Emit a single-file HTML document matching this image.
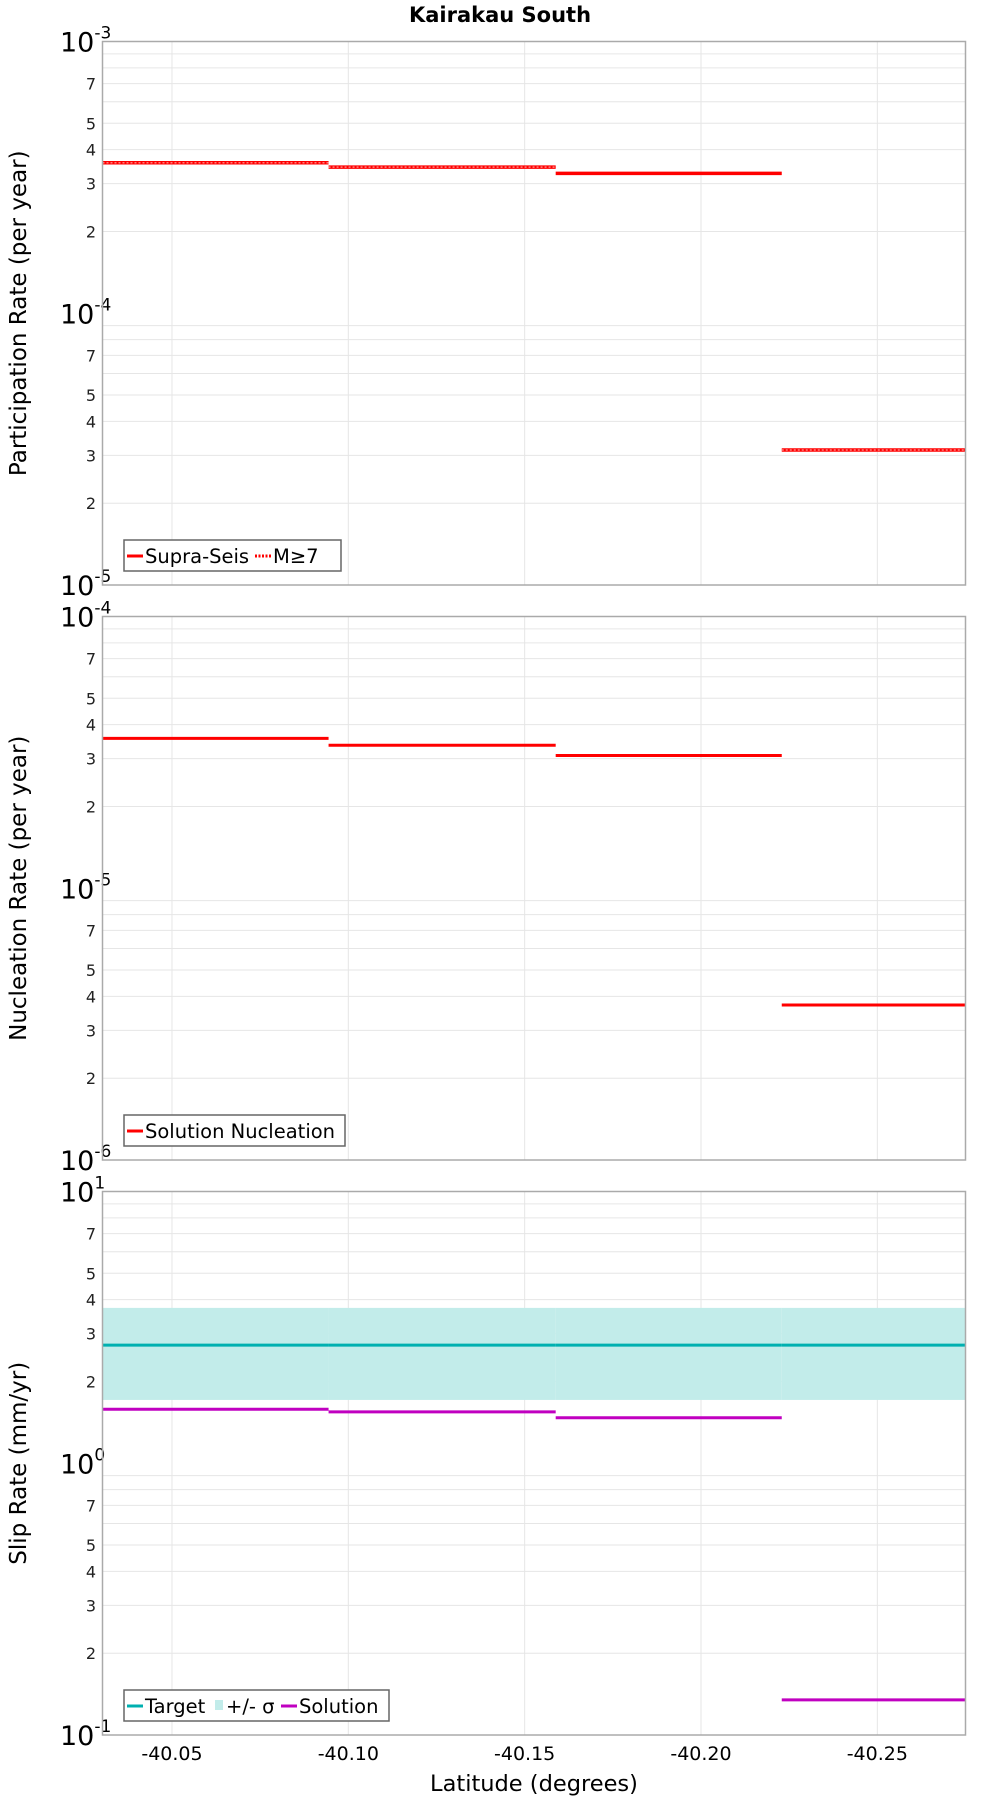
<!DOCTYPE html>
<html><head><meta charset="utf-8"><style>
html,body{margin:0;padding:0;background:#fff;}
svg{display:block;font-family:"DejaVu Sans","Liberation Sans",sans-serif;}
</style></head><body>
<svg id="chart" width="1000" height="1800" viewBox="0 0 1000 1800" xmlns="http://www.w3.org/2000/svg">
<text x="500" y="22" text-anchor="middle" font-size="21" font-weight="bold">Kairakau South</text>
</svg>
<script>
const latEdges = [-40.0303, -40.0944, -40.1588, -40.2229, -40.275];
const xTicks = [-40.05, -40.10, -40.15, -40.20, -40.25];
const xTickLabels = ["-40.05", "-40.10", "-40.15", "-40.20", "-40.25"];
const supraSeis = [3.58e-4, 3.45e-4, 3.27e-4, 3.14e-5];
const mGe7 = [3.58e-4, 3.45e-4, null, 3.14e-5];
const nucleation = [3.56e-5, 3.36e-5, 3.08e-5, 3.72e-6];
const targetSlip = [2.72, 2.72, 2.72, 2.72];
const sigmaHigh = [3.73, 3.73, 3.73, 3.73];
const sigmaLow = [1.71, 1.71, 1.71, 1.71];
const solutionSlip = [1.58, 1.545, 1.47, 0.1346];

const NS = "http://www.w3.org/2000/svg";
const svg = document.getElementById('chart');
const L = 102.5, R = 965.5;
function xs(lat){ return L + (lat - latEdges[0]) / (latEdges[latEdges.length-1] - latEdges[0]) * (R - L); }
function mk(tag, attrs, parent){ const e = document.createElementNS(NS, tag); for (const k in attrs) e.setAttribute(k, attrs[k]); (parent||svg).appendChild(e); return e; }

function panel(name, top, bottom, dTop, dBot, ytitle){
  const g = mk('g', {});
  
  
  const ys = v => top + (Math.log10(dTop) - Math.log10(v)) / (Math.log10(dTop) - Math.log10(dBot)) * (bottom - top);
  for (let e = Math.log10(dBot); e < Math.log10(dTop); e++) {
    for (let m = 2; m <= 9; m++) {
      const v = m * Math.pow(10, e);
      const y = ys(v);
      const gl = mk('line', {x1:L, x2:R, y1:y, y2:y, stroke:'#e6e6e6', 'stroke-width':1}, g);
      
      
      if ([2,3,4,5,7].includes(m)) {
        const t = mk('text', {x:96, y:y+6, 'text-anchor':'end', 'font-size':16, fill:'#222'}, g);
        
        
        t.textContent = m;
      }
    }
  }
  for (let e = Math.log10(dBot); e <= Math.log10(dTop); e++) {
    const y = ys(Math.pow(10, e));
    const t = mk('text', {x:60, y:y+10, 'font-size':27, fill:'#000'}, g);
    
    
    t.textContent = '10';
    const s = mk('tspan', {dy:-13, 'font-size':17}, t);
    s.textContent = String(e);
  }
  xTicks.forEach(v => {
    const x = xs(v);
    const gl = mk('line', {x1:x, x2:x, y1:top, y2:bottom, stroke:'#e6e6e6', 'stroke-width':1}, g);
    
    
  });
  const yt = mk('text', {x:0, y:0, 'text-anchor':'middle', 'font-size':23, transform:`translate(26,${(top+bottom)/2}) rotate(-90)`}, g);
  
  
  yt.textContent = ytitle;
  return {g, ys};
}
function frame(g, top, bottom){
  const f = mk('rect', {x:L, y:top, width:R-L, height:bottom-top, fill:'none', stroke:'#aaa', 'stroke-width':1.5}, g);
  
  
}
function steps(g, ys, vals, color, w, name, dash){
  vals.forEach((v, i) => {
    if (v == null) return;
    const y = ys(v);
    const a = {x1:xs(latEdges[i]), x2:xs(latEdges[i+1]), y1:y, y2:y, stroke:color, 'stroke-width':w};
    if (dash) a['stroke-dasharray'] = dash;
    const l = mk('line', a, g);
    
    
  });
}
function legend(g, x, y, w, items){
  const b = mk('rect', {x:x, y:y, width:w, height:31, fill:'#fff', stroke:'#666', 'stroke-width':1.5}, g);
  
  
  let cx = x + 3;
  items.forEach(it => {
    if (it.band) {
      const r = mk('rect', {x:cx+3, y:y+10, width:8, height:10, fill:it.color}, g);
      
      
      cx += 14;
    } else {
      const a = {x1:cx, x2:cx+16, y1:y+16, y2:y+16, stroke:it.color, 'stroke-width':3};
      if (it.dash) a['stroke-dasharray'] = it.dash;
      const l = mk('line', a, g);
      
      
      cx += 18;
    }
    const t = mk('text', {x:cx, y:y+23, 'font-size':19.5}, g);
    
    
    t.textContent = it.label;
    cx += it.w;
  });
}

// Panel 1
let p = panel('participation', 41.5, 585, 1e-3, 1e-5, 'Participation Rate (per year)');
steps(p.g, p.ys, supraSeis, '#ff0000', 3.5, 'supra-seis');
steps(p.g, p.ys, mGe7, '#ff8080', 1.5, 'm-ge-7', '2,2');
frame(p.g, 41.5, 585);
legend(p.g, 124, 540, 217, [{color:'#f00', label:'Supra-Seis', w:110},{color:'#f00', label:'M≥7', dash:'2,1.5', w:40}]);

// Panel 2
p = panel('nucleation', 616.5, 1160, 1e-4, 1e-6, 'Nucleation Rate (per year)');
steps(p.g, p.ys, nucleation, '#ff0000', 3, 'solution-nucleation');
frame(p.g, 616.5, 1160);
legend(p.g, 124, 1115, 221, [{color:'#f00', label:'Solution Nucleation', w:190}]);

// Panel 3
p = panel('slip-rate', 1191.5, 1735, 10, 0.1, 'Slip Rate (mm/yr)');
sigmaHigh.forEach((v, i) => {
  const y1 = p.ys(v), y2 = p.ys(sigmaLow[i]);
  const r = mk('rect', {x:xs(latEdges[i]), y:y1, width:xs(latEdges[i+1])-xs(latEdges[i]), height:y2-y1, fill:'#c2ecea'}, p.g);
  
  
});
steps(p.g, p.ys, targetSlip, '#00b0b0', 3, 'target');
steps(p.g, p.ys, solutionSlip, '#c000c0', 3, 'solution');
frame(p.g, 1191.5, 1735);
legend(p.g, 124, 1690, 265, [{color:'#00b0b0', label:'Target', w:67},{color:'#c2ecea', band:true, label:'+/- σ', w:55},{color:'#c000c0', label:'Solution', w:80}]);

// X axis
xTicks.forEach((v, i) => {
  const t = mk('text', {x:xs(v), y:1760, 'text-anchor':'middle', 'font-size':19});
  
  
  t.textContent = xTickLabels[i];
});
const xt = mk('text', {x:534, y:1791, 'text-anchor':'middle', 'font-size':22.5});


xt.textContent = 'Latitude (degrees)';
</script>
</body></html>
